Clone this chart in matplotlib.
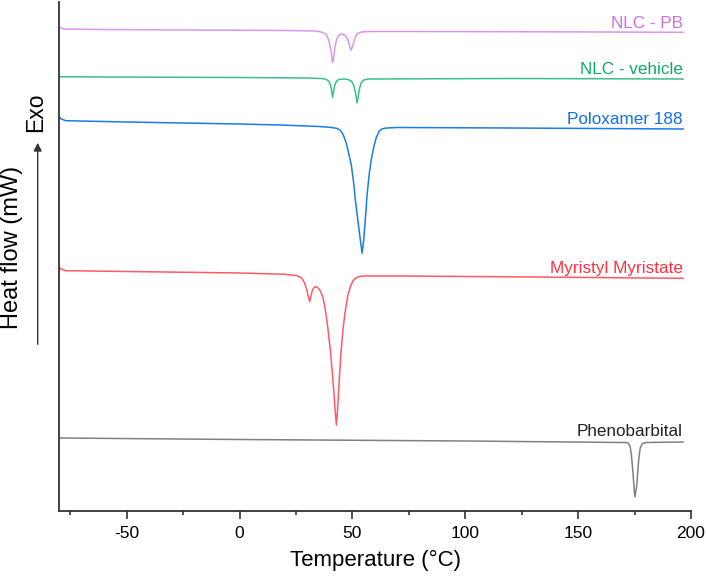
import matplotlib
matplotlib.use("Agg")
import matplotlib.pyplot as plt
from matplotlib.ticker import MultipleLocator

plt.rcParams['font.family'] = ['Liberation Sans', 'DejaVu Sans']

# ---------------- data (temperature in °C, heat flow in arbitrary offset units) ----------------
t_pb = [-80, -78, -60, -20, 20, 33, 35, 37, 38.5, 39.5, 40.3, 40.8, 41.2, 41.7, 42.3, 43, 44, 45.2, 46.5,
        47.5, 48.3, 48.9, 49.3, 49.8, 50.5, 51.3, 52.3, 54, 57, 80, 120, 160, 196.5]
hf_pb = [4.84, 4.82, 4.815, 4.81, 4.805, 4.80, 4.795, 4.785, 4.76, 4.71, 4.63, 4.55, 4.483, 4.54, 4.64, 4.72,
         4.76, 4.77, 4.76, 4.735, 4.69, 4.64, 4.61, 4.63, 4.68, 4.74, 4.775, 4.79, 4.795, 4.795, 4.793, 4.79, 4.787]

t_veh = [-80, -60, 0, 30, 36, 38, 39.5, 40.3, 40.8, 41.2, 41.6, 42.2, 43, 44, 46, 48, 49.5, 50.5, 51.3,
         51.8, 52.1, 52.5, 53, 53.8, 55, 57, 120, 196.5]
hf_veh = [4.343, 4.34, 4.335, 4.33, 4.325, 4.32, 4.30, 4.26, 4.20, 4.137, 4.19, 4.26, 4.30, 4.315, 4.32,
          4.315, 4.30, 4.26, 4.19, 4.12, 4.083, 4.13, 4.21, 4.28, 4.31, 4.32, 4.325, 4.32]

t_pol = [-80, -79, -77, -50, 0, 18, 35, 40, 43, 44.5, 45.5, 46.5, 47.6, 48.6, 49.5, 50.5, 51.3, 52.5, 53.5,
         54.3, 55, 55.8, 56.5, 57.3, 58.3, 59.5, 60.5, 61.7, 63, 65, 70, 120, 196.5]
hf_pol = [3.943, 3.92, 3.903, 3.89, 3.87, 3.86, 3.845, 3.837, 3.827, 3.81, 3.78, 3.73, 3.65, 3.55, 3.46,
          3.29, 3.11, 2.89, 2.71, 2.577, 2.71, 2.943, 3.16, 3.343, 3.51, 3.643, 3.73, 3.793, 3.82, 3.83,
          3.835, 3.83, 3.82]

t_mm = [-80, -79, -77, -50, 0, 20, 25.5, 27.5, 28.8, 29.8, 30.5, 31.1, 31.6, 32.3, 33.2, 33.9, 34.8, 35.8,
        37, 38, 39, 40.2, 41, 41.7, 42.4, 42.9, 43.4, 43.9, 44.5, 45, 46, 46.9, 48, 49.1, 50.2, 51.3, 53,
        55, 71.3, 130, 196.5]
hf_mm = [2.44, 2.42, 2.403, 2.395, 2.38, 2.367, 2.353, 2.33, 2.28, 2.21, 2.14, 2.093, 2.15, 2.21, 2.24,
         2.243, 2.23, 2.20, 2.13, 2.01, 1.85, 1.61, 1.41, 1.21, 0.99, 0.86, 1.01, 1.21, 1.43, 1.61, 1.85,
         2.01, 2.16, 2.243, 2.30, 2.327, 2.345, 2.35, 2.35, 2.34, 2.327]

t_phb = [-80, 0, 100, 170, 172, 173, 173.6, 174.2, 174.7, 175.1, 175.5, 176, 176.4, 176.9, 177.5, 178.5,
         180, 196.5]
hf_phb = [0.73, 0.715, 0.70, 0.685, 0.683, 0.65, 0.56, 0.41, 0.26, 0.143, 0.19, 0.26, 0.39, 0.53, 0.63,
          0.675, 0.685, 0.69]

labels = ["NLC - PB", "NLC - vehicle", "Poloxamer 188", "Myristyl Myristate", "Phenobarbital"]
label_y = [4.825, 4.37, 3.87, 2.38, 0.75]
label_x = 196.4

line_colors = ["#DA96EC", "#3DBF8A", "#1A7BEA", "#FF5A66", "#808080"]
text_colors = ["#CF6EE0", "#10AA66", "#1070E8", "#FF3040", "#222222"]

xticks = [-50, 0, 50, 100, 150, 200]

# ---------------- figure ----------------
fig = plt.figure(figsize=(7.06, 5.77), dpi=100)
ax = fig.add_axes([59/706, 66/577, 632/706, 509/577])

series = [(t_pb, hf_pb), (t_veh, hf_veh), (t_pol, hf_pol), (t_mm, hf_mm), (t_phb, hf_phb)]
for (t, hf), lc in zip(series, line_colors):
    ax.plot(t, hf, color=lc, lw=1.1, solid_joinstyle='round')

for lab, ly, tc in zip(labels, label_y, text_colors):
    ax.text(label_x, ly, lab, color=tc, fontsize=12.3, ha='right', va='baseline')

ax.set_xlim(-80, 200)
ax.set_ylim(0, 5.09)
ax.set_xticks(xticks)
ax.set_xticklabels([str(v) for v in xticks])
ax.xaxis.set_minor_locator(MultipleLocator(25))
ax.set_yticks([])
for s in ['top', 'right']:
    ax.spines[s].set_visible(False)
for s in ['left', 'bottom']:
    ax.spines[s].set_color('#333333')
    ax.spines[s].set_linewidth(1.3)
ax.tick_params(axis='x', which='major', direction='out', length=6, width=1.2, color='#333333',
               labelsize=12.5, pad=4.5)
ax.tick_params(axis='x', which='minor', direction='out', length=3, width=1.2, color='#333333')

ax.set_xlabel("Temperature (°C)", fontsize=16, labelpad=7)

fig.text(12.5/706, 1 - 247/577, "Heat flow (mW)", rotation=90, ha='center', va='center', fontsize=17)
fig.text(36/706, 1 - 112/577, "Exo", rotation=90, ha='center', va='center', fontsize=16.5)
fig.patches.append(matplotlib.patches.FancyArrowPatch(
    (37.7/706, 1 - 347/577), (37.7/706, 1 - 140/577), transform=fig.transFigure,
    arrowstyle='-|>', mutation_scale=12, color='#333333', lw=1.0))

fig.savefig("out.png", dpi=100)
